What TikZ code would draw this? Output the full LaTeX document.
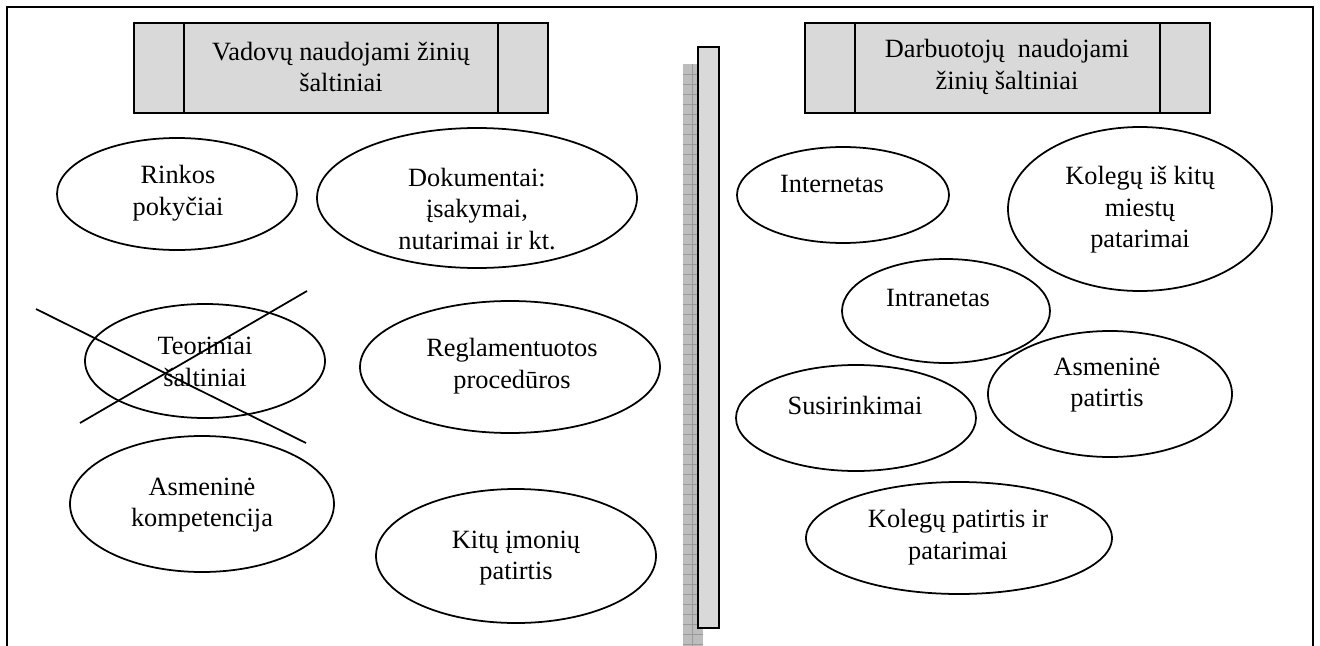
\documentclass[tikz,border=0pt]{standalone}
\usepackage{fontspec}
\setmainfont{Liberation Serif}
\definecolor{boxgray}{HTML}{D9D9D9}
\definecolor{stripgray}{HTML}{BDBDBD}
\definecolor{stripline}{HTML}{9A9A9A}
\begin{document}
\begin{tikzpicture}[x=0.02cm,y=-0.02cm,
  txt/.style={align=center, inner sep=0pt, font=\fontsize{15}{18}\selectfont},
  src/.style={draw, line width=1pt},
  hdr/.style={draw, line width=1.2pt, fill=boxgray},
  frameline/.style={line width=1.4pt, line join=miter},
  crossline/.style={line width=1pt}]
\useasboundingbox (0,0) rectangle (1320,646);

% outer frame, open at the bottom
\draw[frameline] (7,646) -- (7,7) -- (1313,7) -- (1313,646);

% central divider: shaded strip behind a gray bar
\fill[stripgray] (683,64) rectangle (703,646);
\foreach \yy in {74,84,...,644} \draw[stripline, line width=0.4pt] (683,\yy) -- (703,\yy);
\draw[stripline, line width=0.4pt] (692,64) -- (692,646);
\draw[line width=1.3pt, fill=boxgray] (698,47) rectangle (719,628);

% headings
\draw[hdr] (134,23) rectangle (548,113);
\draw[line width=1pt] (184,23) -- (184,113) (498,23) -- (498,113);
\node[txt] (hleft) at (341,67) {Vadovų naudojami žinių\\šaltiniai};

\draw[hdr] (805,23) rectangle (1210,113);
\draw[line width=1pt] (855,23) -- (855,113) (1160,23) -- (1160,113);
\node[txt] (hright) at (1007,67) {Darbuotojų~ naudojami\\žinių šaltiniai};

% sources used by managers
\draw[src] (177,194) ellipse [x radius=120, y radius=56];
\node[txt] (rinkos) at (178,193) {Rinkos\\pokyčiai};

\draw[src] (477,198) ellipse [x radius=160, y radius=70];
\node[txt] (dok) at (477,209) {Dokumentai:\\įsakymai,\\nutarimai ir kt.};

\draw[src] (205,361) ellipse [x radius=120, y radius=57];
\node[txt] (teor) at (205,362) {Teoriniai\\šaltiniai};

\draw[src] (510,367) ellipse [x radius=150, y radius=66];
\node[txt] (regl) at (512,366) {Reglamentuotos\\procedūros};

\draw[src] (202,504) ellipse [x radius=132, y radius=68];
\node[txt] (asmk) at (202,505) {Asmeninė\\kompetencija};

\draw[src] (516,556) ellipse [x radius=140, y radius=67];
\node[txt] (kitu) at (516,558) {Kitų įmonių\\patirtis};

% crossed-out item
\coordinate (xa1) at (36,309);
\coordinate (xa2) at (306,443);
\coordinate (xb1) at (80,423);
\coordinate (xb2) at (307,291);
\draw[crossline] (xa1) -- (xa2);
\draw[crossline] (xb1) -- (xb2);

% sources used by employees
\draw[src] (843,195) ellipse [x radius=106, y radius=48];
\node[txt] (inet) at (832,184) {Internetas};

\draw[src] (1140,209) ellipse [x radius=132, y radius=82];
\node[txt] (kolm) at (1140,210) {Kolegų iš kitų\\miestų\\patarimai};

\draw[src] (946,311) ellipse [x radius=104, y radius=52];
\node[txt] (intra) at (938,298) {Intranetas};

\draw[src] (856,418) ellipse [x radius=120, y radius=53];
\node[txt] (susi) at (855,405) {Susirinkimai};

\draw[src] (1110,394) ellipse [x radius=122, y radius=63];
\node[txt] (asmp) at (1107,385) {Asmeninė\\patirtis};

\draw[src] (959,538) ellipse [x radius=153, y radius=56];
\node[txt] (kolp) at (958,537) {Kolegų patirtis ir\\patarimai};
\end{tikzpicture}
\end{document}
